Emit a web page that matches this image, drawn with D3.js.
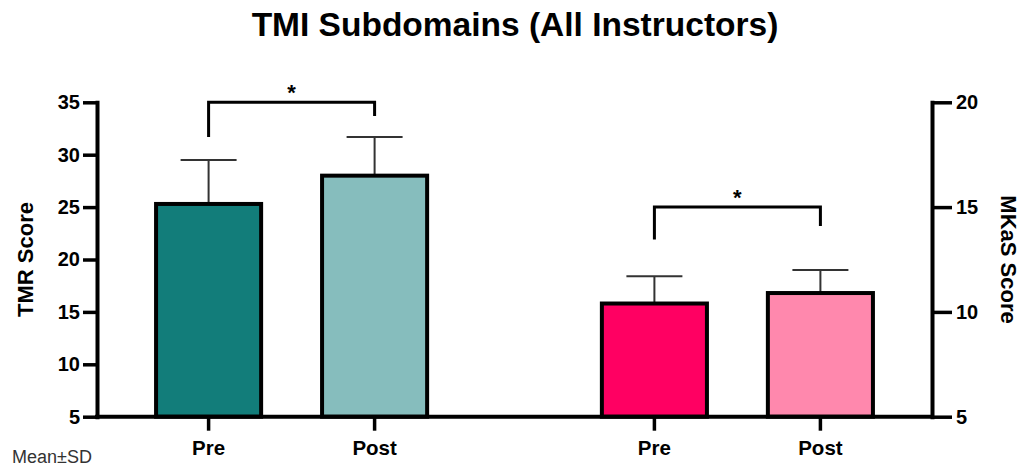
<!DOCTYPE html>
<html>
<head>
<meta charset="utf-8">
<script src="https://cdn.jsdelivr.net/npm/d3@7"></script>
<style>
  html, body { margin: 0; padding: 0; background: #fff; }
  svg { display: block; font-family: "Liberation Sans", Arial, Helvetica, sans-serif; }
</style>
</head>
<body>
<svg id="chart" width="1026" height="468"></svg>
<script>
// Groups (one per y axis) and timepoints within each group
const groups = ["TMR", "MKaS"];
const timepoints = ["Pre", "Post"];

// Mean and SD for each group, in timepoint order
const tmrMean = [25.3, 28.0];
const tmrSD = [4.2, 3.7];
const mkasMean = [10.4, 10.9];
const mkasSD = [1.3, 1.1];

// Bar fills in timepoint order
const tmrColors = ["#127d7a", "#86bdbd"];
const mkasColors = ["#ff0062", "#ff88ad"];

// Axis ticks
const tmrTicks = [5, 10, 15, 20, 25, 30, 35];
const mkasTicks = [5, 10, 15, 20];

// Significance brackets: level of the bar, level of each leg's lower end
const tmrBracket = { top: 35, legs: [31.7, 33.7], label: "*" };
const mkasBracket = { top: 15, legs: [13.45, 14.1], label: "*" };

const svg = d3.select("#chart");

const yL = d3.scaleLinear().domain([5, 35]).range([416.7, 102.3]);
const yR = d3.scaleLinear().domain([5, 20]).range([416.7, 102.3]);

const xGroup = d3.scaleBand().domain(groups).range([97, 932])
  .paddingInner(0.383).paddingOuter(0.128);
const xTime = d3.scaleBand().domain(timepoints).range([0, xGroup.bandwidth()])
  .paddingInner(0.343).paddingOuter(0);

const series = [
  { group: "TMR", y: yL, mean: tmrMean, sd: tmrSD, colors: tmrColors, bracket: tmrBracket },
  { group: "MKaS", y: yR, mean: mkasMean, sd: mkasSD, colors: mkasColors, bracket: mkasBracket }
];

const bars = [];
series.forEach(s => timepoints.forEach((t, i) => {
  bars.push({ group: s.group, t, y: s.y, mean: s.mean[i], sd: s.sd[i], color: s.colors[i] });
}));
const cx = d => xGroup(d.group) + xTime(d.t) + xTime.bandwidth() / 2;

// Title
svg.append("text")
  .attr("x", 515).attr("y", 36)
  .attr("text-anchor", "middle")
  .attr("font-size", 33.5).attr("font-weight", "bold")
  .text("TMI Subdomains (All Instructors)");

// Error bars (upper SD only)
const capW = 56;
const eb = svg.append("g").attr("stroke", "#333").attr("stroke-width", 2);
bars.forEach(d => {
  const x = cx(d);
  eb.append("line").attr("x1", x).attr("x2", x)
    .attr("y1", d.y(d.mean)).attr("y2", d.y(d.mean + d.sd));
  eb.append("line").attr("x1", x - capW / 2).attr("x2", x + capW / 2)
    .attr("y1", d.y(d.mean + d.sd)).attr("y2", d.y(d.mean + d.sd));
});

// Bars
svg.append("g").selectAll("rect").data(bars).join("rect")
  .attr("x", d => xGroup(d.group) + xTime(d.t) + 2)
  .attr("width", xTime.bandwidth() - 4)
  .attr("y", d => d.y(d.mean))
  .attr("height", d => d.y(5) - d.y(d.mean))
  .attr("fill", d => d.color)
  .attr("stroke", "#000").attr("stroke-width", 4);

// Left axis
const axL = svg.append("g").attr("transform", "translate(97,0)")
  .call(d3.axisLeft(yL).tickValues(tmrTicks).tickSize(14).tickSizeOuter(0).tickPadding(3));
// Right axis
const axR = svg.append("g").attr("transform", "translate(932,0)")
  .call(d3.axisRight(yR).tickValues(mkasTicks).tickSize(20).tickSizeOuter(0).tickPadding(4));
[axL, axR].forEach(ax => {
  ax.select(".domain").attr("stroke", "#000").attr("stroke-width", 4)
    .attr("stroke-linecap", "square");
  ax.selectAll(".tick line").attr("stroke", "#000").attr("stroke-width", 3.5);
  ax.selectAll(".tick text").attr("fill", "#000")
    .attr("font-size", 20).attr("font-weight", "bold")
    .attr("font-family", "'Liberation Sans', Arial, sans-serif");
});

// Bottom axis line and category ticks
svg.append("line")
  .attr("x1", 97).attr("x2", 932)
  .attr("y1", yL(5)).attr("y2", yL(5))
  .attr("stroke", "#000").attr("stroke-width", 4).attr("stroke-linecap", "square");
const xt = svg.append("g").selectAll("g").data(bars).join("g")
  .attr("transform", d => `translate(${cx(d)},${yL(5)})`);
xt.append("line").attr("y1", 0).attr("y2", 14)
  .attr("stroke", "#000").attr("stroke-width", 3.5);
xt.append("text").attr("y", 38)
  .attr("text-anchor", "middle")
  .attr("font-size", 20.5).attr("font-weight", "bold")
  .text(d => d.t);

// Axis titles
svg.append("text")
  .attr("transform", `translate(33,${(yL(5) + yL(35)) / 2}) rotate(-90)`)
  .attr("text-anchor", "middle")
  .attr("font-size", 22).attr("font-weight", "bold")
  .text("TMR Score");
svg.append("text")
  .attr("transform", `translate(1001,${(yR(5) + yR(20)) / 2}) rotate(90)`)
  .attr("text-anchor", "middle")
  .attr("font-size", 22).attr("font-weight", "bold")
  .text("MKaS Score");

// Significance brackets
series.forEach(s => {
  const [a, b] = timepoints.map(t => cx({ group: s.group, t }));
  const br = s.bracket;
  svg.append("path")
    .attr("d", `M${a},${s.y(br.legs[0])}V${s.y(br.top)}H${b}V${s.y(br.legs[1])}`)
    .attr("fill", "none").attr("stroke", "#000").attr("stroke-width", 3);
  svg.append("text")
    .attr("x", (a + b) / 2).attr("y", s.y(br.top) - 2)
    .attr("text-anchor", "middle")
    .attr("font-size", 22).attr("font-weight", "bold")
    .text(br.label);
});

// Footnote
svg.append("text")
  .attr("x", 12).attr("y", 463)
  .attr("font-size", 18)
  .attr("fill", "#333")
  .text("Mean±SD");
</script>
</body>
</html>
